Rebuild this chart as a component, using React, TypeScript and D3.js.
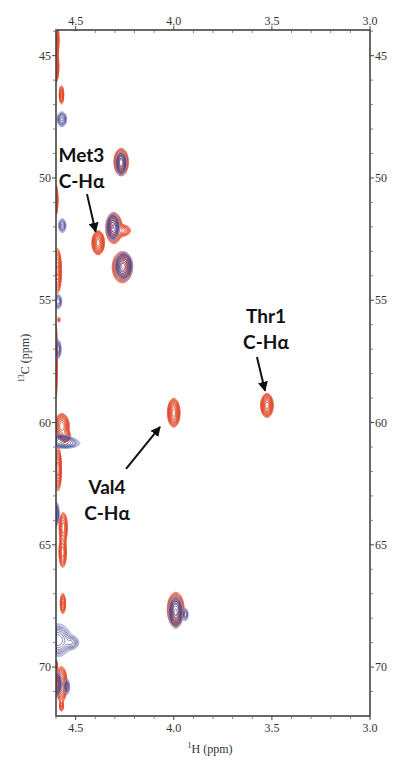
import React, { useMemo } from "react";
import * as d3 from "d3";

// ---- axis ticks ----
const H_TICKS = [4.5, 4.0, 3.5, 3.0];
const H_LABELS = ["4.5", "4.0", "3.5", "3.0"];
const H_MINOR = [4.6, 4.4, 4.3, 4.2, 4.1, 3.9, 3.8, 3.7, 3.6, 3.4, 3.3, 3.2, 3.1];
const C_TICKS = [45, 50, 55, 60, 65, 70];
const C_LABELS = ["45", "50", "55", "60", "65", "70"];
const C_MINOR = [44, 46, 47, 48, 49, 51, 52, 53, 54, 56, 57, 58, 59, 61, 62, 63, 64, 66, 67, 68, 69, 71];

// ---- peaks: 1H ppm, 13C ppm, widthH, widthC, intensity ----
const RED_H = [3.525, 4.0, 4.385, 4.268, 4.305, 4.262, 4.262, 3.99, 4.598, 4.607, 4.572, 4.5, 4.43, 4.604, 4.593, 4.585, 4.603, 4.57, 4.59, 4.563, 4.566, 4.565, 4.572, 4.572, 4.603, 4.552];
const RED_C = [59.3, 59.6, 52.65, 49.35, 52.05, 52.15, 53.65, 67.65, 44.35, 45.45, 46.6, 43.9, 43.9, 50.9, 53.8, 55.8, 57.5, 60.15, 61.9, 64.3, 65.3, 67.4, 70.7, 71.6, 70.0, 60.55];
const RED_SH = [0.013, 0.013, 0.013, 0.015, 0.017, 0.022, 0.021, 0.017, 0.006, 0.009, 0.006, 0.008, 0.006, 0.006, 0.009, 0.004, 0.004, 0.016, 0.008, 0.01, 0.009, 0.007, 0.012, 0.006, 0.005, 0.012];
const RED_SC = [0.2, 0.24, 0.2, 0.23, 0.26, 0.12, 0.26, 0.28, 0.35, 0.3, 0.2, 0.06, 0.05, 0.3, 0.4, 0.08, 0.9, 0.22, 0.4, 0.3, 0.3, 0.22, 0.3, 0.12, 0.15, 0.12];
const RED_A = [1, 1, 1, 1, 1, 0.3, 1, 1.2, 0.5, 0.9, 0.3, 0.12, 0.09, 0.7, 0.7, 0.12, 0.5, 0.8, 0.6, 0.45, 0.45, 0.3, 0.9, 0.2, 0.5, 0.4];

const BLUE_H = [4.268, 4.31, 4.255, 3.99, 3.94, 4.57, 4.568, 4.59, 4.59, 4.575, 4.545, 4.6, 4.59, 4.595, 4.545, 4.52];
const BLUE_C = [49.4, 52.0, 53.6, 67.75, 67.85, 47.6, 51.95, 55.05, 57.0, 60.75, 60.85, 63.75, 68.9, 70.7, 70.8, 69.0];
const BLUE_SH = [0.012, 0.014, 0.019, 0.015, 0.007, 0.012, 0.01, 0.01, 0.008, 0.03, 0.035, 0.008, 0.03, 0.012, 0.008, 0.02];
const BLUE_SC = [0.21, 0.24, 0.24, 0.28, 0.14, 0.15, 0.15, 0.15, 0.2, 0.12, 0.1, 0.25, 0.3, 0.25, 0.18, 0.15];
const BLUE_A = [0.8, 0.85, 0.95, 0.9, 0.25, 0.4, 0.3, 0.35, 0.35, 0.5, 0.3, 0.4, 0.6, 0.45, 0.25, 0.25];

// ---- annotations ----
const LABEL_NAMES = ["Met3", "Thr1", "Val4"];
const LABEL_POS: [number, number][] = [[4.47, 49.35], [3.53, 55.93], [4.34, 62.92]]; // first baseline (ppm)
const ARROW_FROM: [number, number][] = [[4.442, 50.66], [3.576, 57.32], [4.243, 61.9]];
const ARROW_TO: [number, number][] = [[4.398, 52.2], [3.535, 58.7], [4.07, 60.18]];

const W = 394, HH = 760;
const L = 56, R = 370, T = 30, B = 716;

const LEVELS = d3.range(11).map((i) => 0.05 * Math.pow(1.32, i));

function grid(hs: number[], cs: number[], sh: number[], sc: number[], a: number[], x: any, y: any) {
  const gw = R - L, gh = B - T;
  const vals = new Float64Array(gw * gh);
  for (let k = 0; k < hs.length; k++) {
    const px = x(hs[k]) - L, py = y(cs[k]) - T;
    const spx = Math.abs(x(hs[k] + sh[k]) - x(hs[k]));
    const spy = Math.abs(y(cs[k] + sc[k]) - y(cs[k]));
    const i0 = Math.max(0, Math.floor(px - 5 * spx)), i1 = Math.min(gw - 1, Math.ceil(px + 5 * spx));
    const j0 = Math.max(0, Math.floor(py - 5 * spy)), j1 = Math.min(gh - 1, Math.ceil(py + 5 * spy));
    for (let j = j0; j <= j1; j++) {
      const dy = (j + 0.5 - py) / spy;
      for (let i = i0; i <= i1; i++) {
        const dx = (i + 0.5 - px) / spx;
        vals[j * gw + i] += a[k] * Math.exp(-0.5 * (dx * dx + dy * dy));
      }
    }
  }
  return d3.contours().size([gw, gh]).thresholds(LEVELS)(Array.from(vals));
}

export default function App() {
  const x = d3.scaleLinear().domain([4.6, 3.0]).range([L, R]);
  const y = d3.scaleLinear().domain([43.95, 72.0]).range([T, B]);
  const path = d3.geoPath();

  const red = useMemo(() => grid(RED_H, RED_C, RED_SH, RED_SC, RED_A, x, y), []);
  const blue = useMemo(() => grid(BLUE_H, BLUE_C, BLUE_SH, BLUE_SC, BLUE_A, x, y), []);

  const tickFont = { fontFamily: "'Liberation Serif', 'DejaVu Serif', serif", fontSize: 12, fill: "#333" };
  const annFont = { fontFamily: "Lato, 'Open Sans', sans-serif", fontSize: 19, fontWeight: 700, fill: "#111" };

  return (
    <svg width={W} height={HH} style={{ position: "absolute", left: 0, top: 0, background: "#fff" }}>
      <defs>
        <clipPath id="plot">
          <rect x={L} y={T} width={R - L} height={B - T} />
        </clipPath>
        <marker id="ah" viewBox="0 0 10 10" refX="9" refY="5" markerWidth="5" markerHeight="5" orient="auto">
          <path d="M0,0 L10,5 L0,10 z" fill="#111" />
        </marker>
      </defs>
      <g clipPath="url(#plot)">
        <g transform={`translate(${L},${T})`}>
          {red.map((c, i) => (
            <path key={"r" + i} d={path(c as any) || ""} fill="none" stroke={i < 2 ? "#ee6a4a" : "#e2482a"} strokeWidth={1} />
          ))}
          {blue.map((c, i) => (
            <path key={"b" + i} d={path(c as any) || ""} fill="none" stroke={i < 3 ? "#8d8fc4" : "#45478f"} strokeOpacity={0.8} strokeWidth={0.9} />
          ))}
        </g>
      </g>
      {/* frame */}
      <rect x={L} y={T} width={R - L} height={B - T} fill="none" stroke="#444" strokeWidth={1.6} />
      {/* x ticks */}
      {H_TICKS.map((v, i) => (
        <g key={"hx" + i}>
          <line x1={x(v)} x2={x(v)} y1={T} y2={T - 4} stroke="#444" />
          <line x1={x(v)} x2={x(v)} y1={B} y2={B + 4} stroke="#444" />
          <text x={x(v)} y={T - 5} textAnchor="middle" {...tickFont}>{H_LABELS[i]}</text>
          <text x={x(v)} y={B + 16} textAnchor="middle" {...tickFont}>{H_LABELS[i]}</text>
        </g>
      ))}
      {H_MINOR.map((v, i) => (
        <g key={"hm" + i}>
          <line x1={x(v)} x2={x(v)} y1={T} y2={T + 3} stroke="#666" strokeWidth={0.8} />
          <line x1={x(v)} x2={x(v)} y1={B} y2={B + 3} stroke="#666" strokeWidth={0.8} />
        </g>
      ))}
      {/* y ticks */}
      {C_TICKS.map((v, i) => (
        <g key={"cy" + i}>
          <line x1={L} x2={L - 4} y1={y(v)} y2={y(v)} stroke="#444" />
          <line x1={R} x2={R + 4} y1={y(v)} y2={y(v)} stroke="#444" />
          <text x={L - 5} y={y(v) + 4} textAnchor="end" {...tickFont}>{C_LABELS[i]}</text>
          <text x={R + 5} y={y(v) + 4} textAnchor="start" {...tickFont}>{C_LABELS[i]}</text>
        </g>
      ))}
      {C_MINOR.map((v, i) => (
        <g key={"cm" + i}>
          <line x1={L} x2={L - 3} y1={y(v)} y2={y(v)} stroke="#666" strokeWidth={0.8} />
          <line x1={R} x2={R + 3} y1={y(v)} y2={y(v)} stroke="#666" strokeWidth={0.8} />
        </g>
      ))}
      {/* axis titles */}
      <text x={(L + R) / 2 - 3} y={B + 37} textAnchor="middle" {...tickFont}>
        <tspan fontSize={8} dy={-5}>1</tspan>
        <tspan dy={5}>H  (ppm)</tspan>
      </text>
      <text transform={`translate(29,${(T + B) / 2 - 15}) rotate(-90)`} textAnchor="middle" {...tickFont}>
        <tspan fontSize={8} dy={-5}>13</tspan>
        <tspan dy={5}>C  (ppm)</tspan>
      </text>
      {/* annotations */}
      {LABEL_NAMES.map((n, i) => (
        <g key={"ann" + i}>
          <text x={x(LABEL_POS[i][0])} y={y(LABEL_POS[i][1])} textAnchor="middle" {...annFont}>{n}</text>
          <text x={x(LABEL_POS[i][0])} y={y(LABEL_POS[i][1]) + 26} textAnchor="middle" {...annFont}>C-Hα</text>
          <line x1={x(ARROW_FROM[i][0])} y1={y(ARROW_FROM[i][1])} x2={x(ARROW_TO[i][0])} y2={y(ARROW_TO[i][1])} stroke="#111" strokeWidth={2} markerEnd="url(#ah)" />
        </g>
      ))}
    </svg>
  );
}
